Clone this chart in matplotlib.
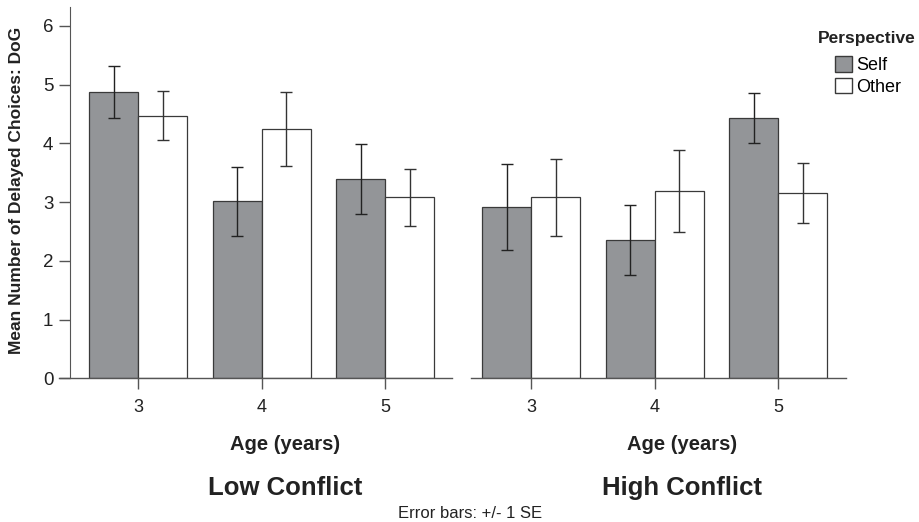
import numpy as np
import matplotlib
matplotlib.use("Agg")
import matplotlib.pyplot as plt
from matplotlib.patches import Patch

ages = ["3", "4", "5"]
low_self = [4.87, 3.01, 3.39]
low_self_se = [0.44, 0.59, 0.59]
low_other = [4.47, 4.24, 3.08]
low_other_se = [0.42, 0.63, 0.49]
high_self = [2.92, 2.35, 4.43]
high_self_se = [0.73, 0.60, 0.42]
high_other = [3.08, 3.19, 3.15]
high_other_se = [0.66, 0.70, 0.51]
y_ticks = [0, 1, 2, 3, 4, 5, 6]

SELF_COL = "#939598"
EDGE = "#3a3a3a"
AX_COL = "#555555"
ARIAL = ["Liberation Sans", "DejaVu Sans"]

fig = plt.figure(figsize=(9.2, 5.22), dpi=100)
ax1 = fig.add_axes([59/920, 1 - 378.3/522, 393/920, 371.3/522])
ax2 = fig.add_axes([471/920, 1 - 378.3/522, 375/920, 371.3/522])

def draw(ax, s, s_se, o, o_se, xlim):
    x = np.arange(len(ages))
    w = 0.397
    ax.bar(x - w/2, s, w, color=SELF_COL, edgecolor=EDGE, linewidth=0.9, zorder=2)
    ax.bar(x + w/2, o, w, color="white", edgecolor=EDGE, linewidth=0.9, zorder=2)
    ax.errorbar(x - w/2, s, yerr=s_se, fmt="none", ecolor="#222222",
                elinewidth=1.0, capsize=4.2, capthick=1.0, zorder=3)
    ax.errorbar(x + w/2, o, yerr=o_se, fmt="none", ecolor="#333333",
                elinewidth=1.0, capsize=4.2, capthick=1.0, zorder=3)
    ax.set_xlim(*xlim)
    ax.set_ylim(0, 6.32)
    ax.set_xticks(x)
    ax.set_xticklabels(ages, fontfamily=ARIAL, fontsize=13)
    ax.tick_params(axis="x", direction="out", length=8, width=1, color=AX_COL,
                   pad=7, colors="#222222")
    for sp in ["top", "right"]:
        ax.spines[sp].set_visible(False)
    ax.spines["bottom"].set_color(AX_COL)
    ax.spines["bottom"].set_linewidth(1.0)
    ax.patch.set_alpha(0)

draw(ax1, low_self, low_self_se, low_other, low_other_se, (-0.64, 2.54))
draw(ax2, high_self, high_self_se, high_other, high_other_se, (-0.49, 2.55))

ax1.spines["left"].set_position(("data", -0.55))
ax1.spines["left"].set_color(AX_COL)
ax1.set_yticks(y_ticks)
ax1.set_yticklabels([str(t) for t in y_ticks], fontfamily=ARIAL, fontsize=13.5)
ax1.tick_params(axis="y", direction="out", length=8, width=1, color=AX_COL,
                pad=4, colors="#222222")
ax2.spines["left"].set_visible(False)
ax2.set_yticks([])

fig.text(17/920, 1 - 190/522, "Mean Number of Delayed Choices: DoG", rotation=90,
         ha="center", va="center", fontsize=12.5, fontweight="bold",
         fontfamily=ARIAL, color="#222222")

for cx, cap in [(285, "Low Conflict"), (682, "High Conflict")]:
    fig.text(cx/920, 1 - 445/522, "Age (years)", ha="center", va="center",
             fontsize=14.5, fontweight="bold", fontfamily=ARIAL, color="#222222")
    fig.text(cx/920, 1 - 488/522, cap, ha="center", va="center",
             fontsize=18.5, fontweight="bold", fontfamily=ARIAL, color="#222222")

fig.text(470/920, 1 - 513/522, "Error bars: +/- 1 SE", ha="center", va="center",
         fontsize=12, fontfamily=ARIAL, color="#222222")

# legend: bold title set apart, entries indented under it
fig.text(818/920, 1 - 39/522, "Perspective", ha="left", va="center",
         fontsize=12.5, fontweight="bold", fontfamily=ARIAL, color="#222222")
handles = [Patch(facecolor=SELF_COL, edgecolor=EDGE, label="Self"),
           Patch(facecolor="white", edgecolor=EDGE, label="Other")]
leg = fig.legend(handles=handles, loc="upper left",
                 bbox_to_anchor=(835/920, 1 - 56/522), frameon=False,
                 prop={"family": ARIAL, "size": 13}, handlelength=0.95,
                 handleheight=0.95, handletextpad=0.2, labelspacing=0.2,
                 borderpad=0, borderaxespad=0)

fig.savefig("out.png", dpi=100)
